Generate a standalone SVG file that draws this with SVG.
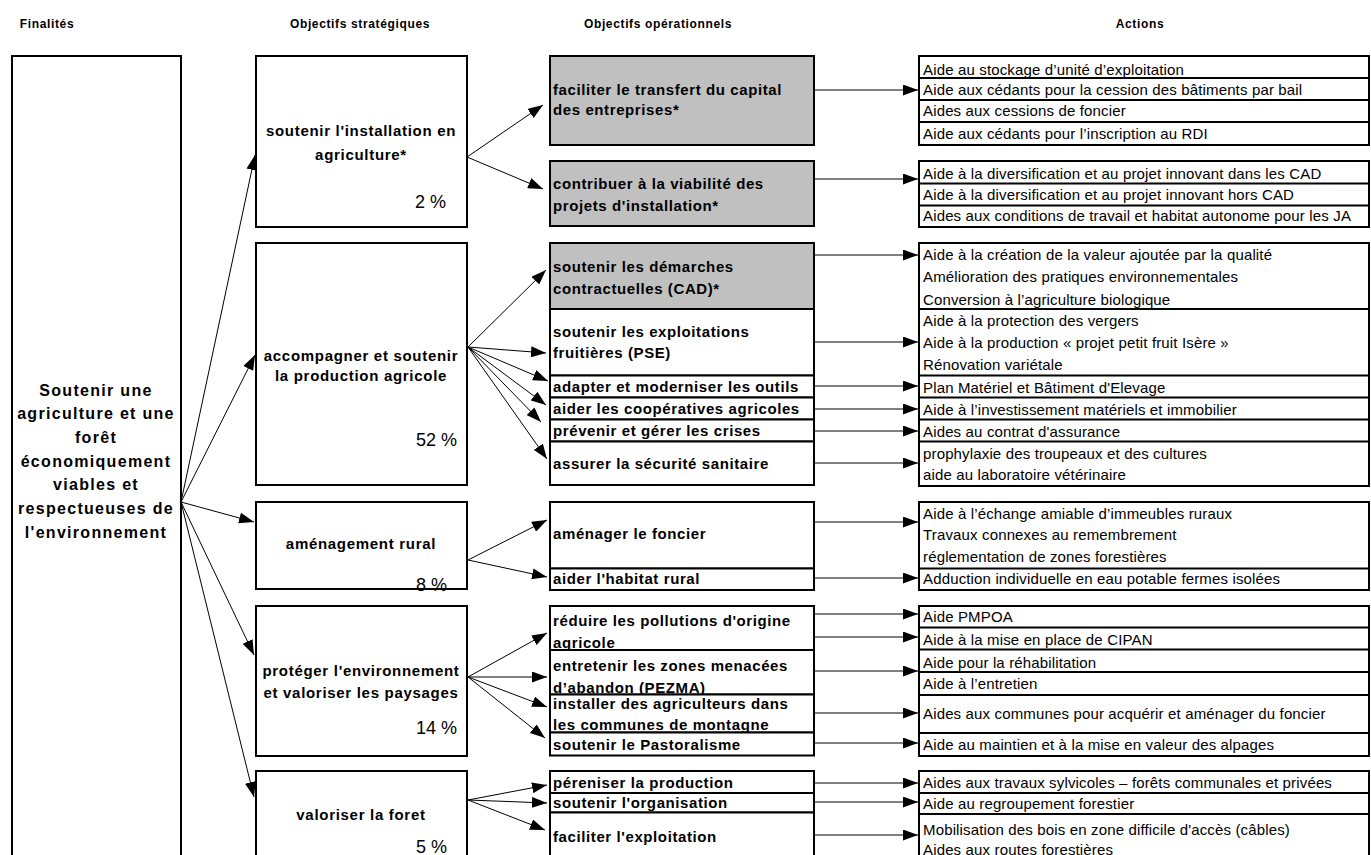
<svg xmlns="http://www.w3.org/2000/svg" width="1371" height="855" viewBox="0 0 1371 855">
<style>
.bx{fill:#fff;stroke:#000;stroke-width:2}
.gr{fill:#c0c0c0;stroke:#000;stroke-width:2}
.sep{stroke:#000;stroke-width:2}
.ln{stroke:#000;stroke-width:1;fill:none;marker-end:url(#ah)}
text{font-family:"Liberation Sans",Arial,sans-serif;fill:#000}
.hd{font-size:12px;font-weight:bold;letter-spacing:0.64px;text-anchor:middle}
.fin{font-size:16px;font-weight:bold;letter-spacing:1.3px;text-anchor:middle}
.st{font-size:15px;font-weight:bold;letter-spacing:0.7px;text-anchor:middle}
.pc{font-size:18px;text-anchor:end}
.op{font-size:15px;font-weight:bold;letter-spacing:0.6px}
.ac{font-size:15px;letter-spacing:0.15px}
</style>
<defs>
<marker id="ah" markerUnits="userSpaceOnUse" markerWidth="15" markerHeight="11" refX="15" refY="5.5" orient="auto">
<path d="M0,0 L15,5.5 L0,11 z" fill="#000"/>
</marker>
</defs>

<g id="headers">
<text class="hd" x="47" y="28">Finalités</text>
<text class="hd" x="360" y="28">Objectifs stratégiques</text>
<text class="hd" x="658" y="28">Objectifs opérationnels</text>
<text class="hd" x="1140" y="28">Actions</text>
</g>

<g id="connectors">
<line class="ln" x1="181" y1="502" x2="255" y2="155"/>
<line class="ln" x1="181" y1="502" x2="255" y2="355"/>
<line class="ln" x1="181" y1="502" x2="254" y2="522"/>
<line class="ln" x1="181" y1="502" x2="254" y2="655"/>
<line class="ln" x1="181" y1="502" x2="254" y2="797"/>

<line class="ln" x1="467" y1="157" x2="543" y2="105"/>
<line class="ln" x1="467" y1="157" x2="543" y2="189"/>

<line class="ln" x1="468" y1="347" x2="546" y2="270"/>
<line class="ln" x1="468" y1="347" x2="546" y2="353"/>
<line class="ln" x1="468" y1="347" x2="548" y2="381"/>
<line class="ln" x1="468" y1="347" x2="546" y2="405"/>
<line class="ln" x1="468" y1="347" x2="541" y2="422"/>
<line class="ln" x1="468" y1="347" x2="547" y2="459"/>

<line class="ln" x1="468" y1="560" x2="547" y2="520"/>
<line class="ln" x1="468" y1="560" x2="547" y2="577"/>

<line class="ln" x1="468" y1="677" x2="547" y2="633"/>
<line class="ln" x1="468" y1="677" x2="547" y2="677"/>
<line class="ln" x1="468" y1="677" x2="547" y2="707"/>
<line class="ln" x1="468" y1="677" x2="545" y2="738"/>

<line class="ln" x1="468" y1="800" x2="547" y2="785"/>
<line class="ln" x1="468" y1="800" x2="547" y2="803"/>
<line class="ln" x1="468" y1="800" x2="545" y2="830"/>

<line class="ln" x1="815" y1="90" x2="918" y2="90"/>
<line class="ln" x1="815" y1="179" x2="918" y2="179"/>
<line class="ln" x1="815" y1="255" x2="918" y2="255"/>
<line class="ln" x1="815" y1="342" x2="918" y2="342"/>
<line class="ln" x1="815" y1="386" x2="918" y2="386"/>
<line class="ln" x1="815" y1="409" x2="918" y2="409"/>
<line class="ln" x1="815" y1="431" x2="918" y2="431"/>
<line class="ln" x1="815" y1="463" x2="918" y2="463"/>
<line class="ln" x1="815" y1="522" x2="918" y2="522"/>
<line class="ln" x1="815" y1="578" x2="918" y2="578"/>
<line class="ln" x1="815" y1="614" x2="918" y2="614"/>
<line class="ln" x1="815" y1="637" x2="918" y2="637"/>
<line class="ln" x1="815" y1="671" x2="918" y2="671"/>
<line class="ln" x1="815" y1="713" x2="918" y2="713"/>
<line class="ln" x1="815" y1="743" x2="918" y2="743"/>
<line class="ln" x1="815" y1="783" x2="918" y2="783"/>
<line class="ln" x1="815" y1="802" x2="918" y2="802"/>
<line class="ln" x1="815" y1="835" x2="918" y2="835"/>
</g>

<g id="finalite">
<rect class="bx" x="12" y="56" width="169" height="820"/>
<text class="fin" x="96" y="395.6">Soutenir une</text>
<text class="fin" x="96" y="419.3">agriculture et une</text>
<text class="fin" x="96" y="443">forêt</text>
<text class="fin" x="96" y="466.6">économiquement</text>
<text class="fin" x="96" y="490.3">viables et</text>
<text class="fin" x="96" y="514">respectueuses de</text>
<text class="fin" x="96" y="537.6">l'environnement</text>
</g>

<g id="strat1">
<rect class="bx" x="256" y="56" width="211" height="171"/>
<text class="st" x="361" y="136">soutenir l'installation en</text>
<text class="st" x="361" y="160">agriculture*</text>
<text class="pc" x="446" y="208">2 %</text>
</g>
<g id="strat2">
<rect class="bx" x="256" y="243" width="211" height="242"/>
<text class="st" x="361" y="360.5">accompagner et soutenir</text>
<text class="st" x="361" y="381">la production agricole</text>
<text class="pc" x="457" y="445.5">52 %</text>
</g>
<g id="strat3">
<rect class="bx" x="256" y="502" width="211" height="87"/>
<text class="st" x="361" y="549">aménagement rural</text>
<text class="pc" x="447" y="590.5">8 %</text>
</g>
<g id="strat4">
<rect class="bx" x="256" y="606" width="211" height="150"/>
<text class="st" x="361" y="675.5">protéger l'environnement</text>
<text class="st" x="361" y="698">et valoriser les paysages</text>
<text class="pc" x="457" y="734">14 %</text>
</g>
<g id="strat5">
<rect class="bx" x="256" y="771" width="211" height="110"/>
<text class="st" x="361" y="819.5">valoriser la foret</text>
<text class="pc" x="447" y="853">5 %</text>
</g>

<g id="op1">
<rect class="gr" x="550" y="56" width="264" height="89"/>
<text class="op" x="553" y="94.6">faciliter le transfert du capital</text>
<text class="op" x="553" y="115.3">des entreprises*</text>
</g>
<g id="op2">
<rect class="gr" x="550" y="161" width="264" height="65"/>
<text class="op" x="553" y="189.3">contribuer à la viabilité des</text>
<text class="op" x="553" y="211">projets d'installation*</text>
</g>
<g id="op3">
<rect class="gr" x="550" y="243" width="264" height="66"/>
<text class="op" x="553" y="272">soutenir les démarches</text>
<text class="op" x="553" y="294.3">contractuelles (CAD)*</text>
</g>
<g id="op4">
<rect class="bx" x="550" y="309" width="264" height="66.5"/>
<text class="op" x="553" y="337.3">soutenir les exploitations</text>
<text class="op" x="553" y="358.3">fruitières (PSE)</text>
</g>
<g id="op5">
<rect class="bx" x="550" y="375.5" width="264" height="22"/>
<text class="op" x="553" y="392">adapter et moderniser les outils</text>
</g>
<g id="op6">
<rect class="bx" x="550" y="397.5" width="264" height="22"/>
<text class="op" x="553" y="414.3">aider les coopératives agricoles</text>
</g>
<g id="op7">
<rect class="bx" x="550" y="419.5" width="264" height="22"/>
<text class="op" x="553" y="436.3">prévenir et gérer les crises</text>
</g>
<g id="op8">
<rect class="bx" x="550" y="441.5" width="264" height="43.5"/>
<text class="op" x="553" y="469.3">assurer la sécurité sanitaire</text>
</g>
<g id="op9">
<rect class="bx" x="550" y="502" width="264" height="66.5"/>
<text class="op" x="553" y="539.3">aménager le foncier</text>
</g>
<g id="op10">
<rect class="bx" x="550" y="568.5" width="264" height="21.5"/>
<text class="op" x="553" y="584.3">aider l'habitat rural</text>
</g>
<g id="op11">
<rect class="bx" x="550" y="606" width="264" height="44"/>
<text class="op" x="553" y="626">réduire les pollutions d'origine</text>
<text class="op" x="553" y="647.6">agricole</text>
</g>
<g id="op12">
<rect class="bx" x="550" y="650" width="264" height="44.5"/>
<text class="op" x="553" y="671">entretenir les zones menacées</text>
<text class="op" x="553" y="692.6">d’abandon (PEZMA)</text>
</g>
<g id="op13">
<rect class="bx" x="550" y="694.5" width="264" height="38"/>
<text class="op" x="553" y="709.3">installer des agriculteurs dans</text>
<text class="op" x="553" y="729.6">les communes de montagne</text>
</g>
<g id="op14">
<rect class="bx" x="550" y="732.5" width="264" height="23"/>
<text class="op" x="553" y="750.3">soutenir le Pastoralisme</text>
</g>
<g id="op15">
<rect class="bx" x="550" y="771" width="264" height="22"/>
<text class="op" x="553" y="787.6">péreniser la production</text>
</g>
<g id="op16">
<rect class="bx" x="550" y="793" width="264" height="19.5"/>
<text class="op" x="553" y="807.6">soutenir l'organisation</text>
</g>
<g id="op17">
<rect class="bx" x="550" y="812.5" width="264" height="70"/>
<text class="op" x="553" y="842">faciliter l'exploitation</text>
</g>

<g id="actions1">
<rect class="bx" x="919" y="56" width="450" height="89"/>
<line class="sep" x1="919" y1="78" x2="1369" y2="78"/>
<line class="sep" x1="919" y1="100" x2="1369" y2="100"/>
<line class="sep" x1="919" y1="122" x2="1369" y2="122"/>
<text class="ac" x="923" y="75.3">Aide au stockage d’unité d’exploitation</text>
<text class="ac" x="923" y="95.3">Aide aux cédants pour la cession des bâtiments par bail</text>
<text class="ac" x="923" y="116.3">Aides aux cessions de foncier</text>
<text class="ac" x="923" y="138.6">Aide aux cédants pour l’inscription au RDI</text>
</g>
<g id="actions2">
<rect class="bx" x="919" y="161" width="450" height="66"/>
<line class="sep" x1="919" y1="183.5" x2="1369" y2="183.5"/>
<line class="sep" x1="919" y1="205.5" x2="1369" y2="205.5"/>
<text class="ac" x="923" y="178.6">Aide à la diversification et au projet innovant dans les CAD</text>
<text class="ac" x="923" y="200.3">Aide à la diversification et au projet innovant hors CAD</text>
<text class="ac" x="923" y="221">Aides aux conditions de travail et habitat autonome pour les JA</text>
</g>
<g id="actions3">
<rect class="bx" x="919" y="243" width="450" height="243"/>
<line class="sep" x1="919" y1="309" x2="1369" y2="309"/>
<line class="sep" x1="919" y1="375.5" x2="1369" y2="375.5"/>
<line class="sep" x1="919" y1="397.5" x2="1369" y2="397.5"/>
<line class="sep" x1="919" y1="419.5" x2="1369" y2="419.5"/>
<line class="sep" x1="919" y1="441.5" x2="1369" y2="441.5"/>
<text class="ac" x="923" y="260.3">Aide à la création de la valeur ajoutée par la qualité</text>
<text class="ac" x="923" y="282">Amélioration des pratiques environnementales</text>
<text class="ac" x="923" y="304.6">Conversion à l’agriculture biologique</text>
<text class="ac" x="923" y="326.3">Aide à la protection des vergers</text>
<text class="ac" x="923" y="348">Aide à la production « projet petit fruit Isère »</text>
<text class="ac" x="923" y="369.6">Rénovation variétale</text>
<text class="ac" x="923" y="392.6">Plan Matériel et Bâtiment d'Elevage</text>
<text class="ac" x="923" y="415">Aide à l’investissement matériels et immobilier</text>
<text class="ac" x="923" y="437">Aides au contrat d'assurance</text>
<text class="ac" x="923" y="458.6">prophylaxie des troupeaux et des cultures</text>
<text class="ac" x="923" y="480.3">aide au laboratoire vétérinaire</text>
</g>
<g id="actions4">
<rect class="bx" x="919" y="502" width="450" height="88"/>
<line class="sep" x1="919" y1="568.5" x2="1369" y2="568.5"/>
<text class="ac" x="923" y="518.6">Aide à l’échange amiable d’immeubles ruraux</text>
<text class="ac" x="923" y="540.3">Travaux connexes au remembrement</text>
<text class="ac" x="923" y="562">réglementation de zones forestières</text>
<text class="ac" x="923" y="584.3">Adduction individuelle en eau potable fermes isolées</text>
</g>
<g id="actions5">
<rect class="bx" x="919" y="606" width="450" height="150"/>
<line class="sep" x1="919" y1="627.5" x2="1369" y2="627.5"/>
<line class="sep" x1="919" y1="649.5" x2="1369" y2="649.5"/>
<line class="sep" x1="919" y1="672" x2="1369" y2="672"/>
<line class="sep" x1="919" y1="695" x2="1369" y2="695"/>
<line class="sep" x1="919" y1="733" x2="1369" y2="733"/>
<text class="ac" x="923" y="622">Aide PMPOA</text>
<text class="ac" x="923" y="645.3">Aide à la mise en place de CIPAN</text>
<text class="ac" x="923" y="667.6">Aide pour la réhabilitation</text>
<text class="ac" x="923" y="688.6">Aide à l’entretien</text>
<text class="ac" x="923" y="718.6">Aides aux communes pour acquérir et aménager du foncier</text>
<text class="ac" x="923" y="749.6">Aide au maintien et à la mise en valeur des alpages</text>
</g>
<g id="actions6">
<rect class="bx" x="919" y="771" width="450" height="110"/>
<line class="sep" x1="919" y1="793" x2="1369" y2="793"/>
<line class="sep" x1="919" y1="814" x2="1369" y2="814"/>
<text class="ac" x="923" y="788">Aides aux travaux sylvicoles – forêts communales et privées</text>
<text class="ac" x="923" y="808.6">Aide au regroupement forestier</text>
<text class="ac" x="923" y="835.3">Mobilisation des bois en zone difficile d'accès (câbles)</text>
<text class="ac" x="923" y="854.5">Aides aux routes forestières</text>
</g>
</svg>
